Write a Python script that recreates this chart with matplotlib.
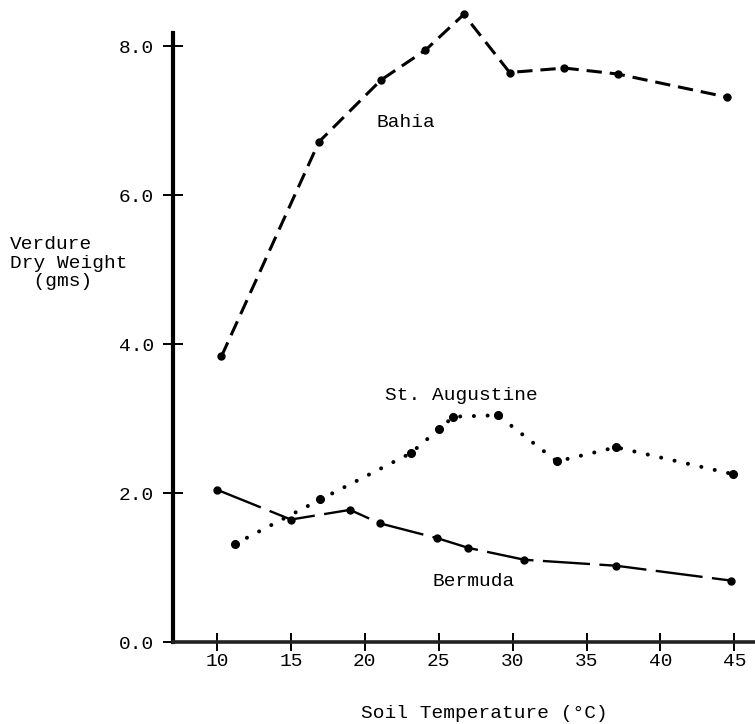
import matplotlib
matplotlib.use("Agg")
import matplotlib.pyplot as plt

# soil temperature (deg C) and verdure dry weight (gms) per grass
bahia_temp = [10.3, 16.9, 21.1, 24.1, 26.7, 29.8, 33.5, 37.1, 44.5]
bahia_wt = [3.84, 6.72, 7.55, 7.95, 8.43, 7.65, 7.71, 7.63, 7.32]

staug_temp = [11.2, 17.0, 23.1, 25.0, 26.0, 29.0, 33.0, 37.0, 44.9]
staug_wt = [1.32, 1.92, 2.54, 2.86, 3.03, 3.05, 2.43, 2.62, 2.26]

bermuda_temp = [10.0, 15.0, 19.0, 21.0, 24.9, 27.0, 30.8, 37.0, 44.8]
bermuda_wt = [2.05, 1.65, 1.78, 1.60, 1.40, 1.27, 1.11, 1.03, 0.83]

x_ticks = [10, 15, 20, 25, 30, 35, 40, 45]
y_ticks = [0.0, 2.0, 4.0, 6.0, 8.0]

plt.rcParams['font.family'] = ['Liberation Mono', 'DejaVu Sans Mono']
FS = 14

fig = plt.figure(figsize=(7.55, 7.24), dpi=100)
ax = fig.add_axes([0.2287, 0.1126, 0.7713, 0.8418])

# the Bahia peak sits above the top of the axis, so don't clip
ax.plot(bahia_temp, bahia_wt, color='black', lw=2.2, linestyle=(0, (5, 2.6)),
        marker='o', ms=5, mec='black', mfc='black', clip_on=False)
ax.plot(staug_temp, staug_wt, color='black', lw=2.9, linestyle=(0, (0.01, 3.4)),
        dash_capstyle='round', marker='o', ms=5.5, mec='black', mfc='black',
        clip_on=False)
ax.plot(bermuda_temp, bermuda_wt, color='black', lw=1.7, linestyle=(0, (20, 4)),
        marker='o', ms=5, mec='black', mfc='black', clip_on=False)

ax.text(20.76, 6.98, 'Bahia', fontsize=FS, va='center', ha='left')
ax.text(21.37, 3.31, 'St. Augustine', fontsize=FS, va='center', ha='left')
ax.text(24.6, 0.82, 'Bermuda', fontsize=FS, va='center', ha='left')

ax.set_xlim(7.0, 46.4)
ax.set_ylim(0, 8.18)
ax.set_xticks(x_ticks)
ax.set_xticklabels([str(t) for t in x_ticks])
ax.set_yticks(y_ticks)
ax.set_yticklabels(['%.1f' % t for t in y_ticks])

for side in ['top', 'right']:
    ax.spines[side].set_visible(False)
ax.spines['left'].set_linewidth(3.0)
ax.spines['bottom'].set_linewidth(2.6)
ax.spines['bottom'].set_color('#222222')

ax.tick_params(axis='y', direction='inout', length=14, width=1.4, pad=6.5, labelsize=FS)
ax.tick_params(axis='x', direction='inout', length=13, width=1.4, pad=1, labelsize=FS)

fig.text(10 / 755, 1 - 263 / 724, 'Verdure\nDry Weight\n  (gms)', fontsize=FS,
         ha='left', va='center', multialignment='left', linespacing=1.15)
fig.text(484 / 755, 1 - 714 / 724, 'Soil Temperature (°C)', fontsize=FS,
         ha='center', va='center')

fig.savefig('out.png', dpi=100)
